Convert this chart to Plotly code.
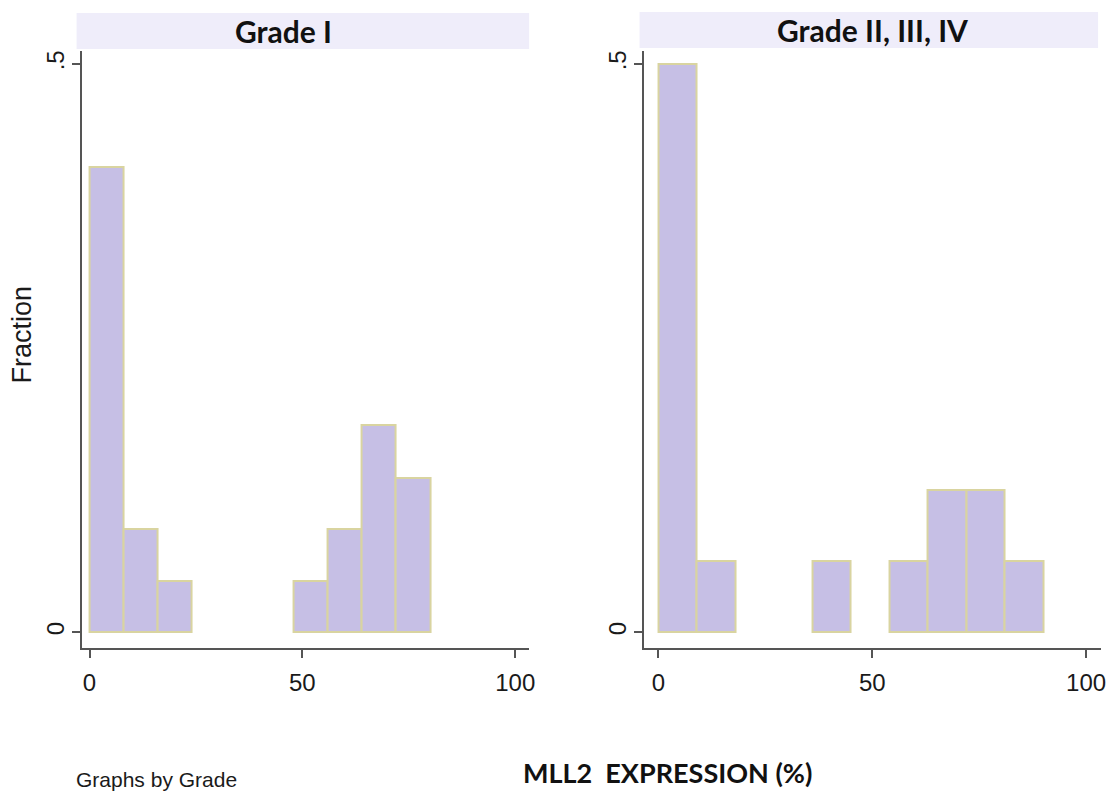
import plotly.graph_objects as go

# ---- data ----
g1_bin_start = [0, 8, 16, 48, 56, 64, 72]
g1_fraction = [0.409, 0.091, 0.045, 0.045, 0.091, 0.182, 0.136]
g1_bin_width = 8

g2_bin_start = [0, 9, 36, 54, 63, 72, 81]
g2_fraction = [0.5, 0.0625, 0.0625, 0.0625, 0.125, 0.125, 0.0625]
g2_bin_width = 9

panel_titles = ["Grade I", "Grade II, III, IV"]
x_tick_vals = [0, 50, 100]
y_tick_vals = [0, 0.5]
y_tick_text = ["0", ".5"]

W, H = 1119, 791
def px(x):
    return x / W
def py(y):
    return 1 - y / H

BAR_FILL = "#c6bfe5"
BAR_LINE = "#d9d4a0"
AXIS_COL = "#555555"
TICK_FONT = dict(family="Liberation Sans, Arial", size=24, color="#1a1a1a")

fig = go.Figure()
fig.add_trace(go.Bar(x=g1_bin_start, y=g1_fraction, width=g1_bin_width, offset=0,
                     marker=dict(color=BAR_FILL, line=dict(color=BAR_LINE, width=2)),
                     xaxis="x", yaxis="y", showlegend=False, hoverinfo="skip"))
fig.add_trace(go.Bar(x=g2_bin_start, y=g2_fraction, width=g2_bin_width, offset=0,
                     marker=dict(color=BAR_FILL, line=dict(color=BAR_LINE, width=2)),
                     xaxis="x2", yaxis="y2", showlegend=False, hoverinfo="skip"))

common_x = dict(showline=True, linecolor=AXIS_COL, linewidth=2, ticks="outside",
                ticklen=8, tickwidth=1.5, tickcolor=AXIS_COL, tickvals=x_tick_vals,
                showgrid=False, zeroline=False, tickfont=TICK_FONT, ticklabelstandoff=4)
common_y = dict(showline=True, linecolor=AXIS_COL, linewidth=2, ticks="outside",
                ticklen=8, tickwidth=1.5, tickcolor=AXIS_COL, tickvals=y_tick_vals,
                ticktext=y_tick_text, tickangle=-90, showgrid=False, zeroline=False,
                tickfont=TICK_FONT, range=[-0.014, 0.5114], ticklabelstandoff=-2,
                domain=[py(648), py(50)])

fig.update_layout(
    width=W, height=H, margin=dict(l=0, r=0, t=0, b=0),
    paper_bgcolor="white", plot_bgcolor="white", bargap=0,
    xaxis=dict(domain=[px(82), px(532)], range=[-1.87, 103.27], anchor="y", **common_x),
    yaxis=dict(anchor="x", **common_y),
    xaxis2=dict(domain=[px(647), px(1107)], range=[-3.49, 103.5], anchor="y2", **common_x),
    yaxis2=dict(anchor="x2", **common_y),
)

# header strips
fig.add_shape(type="rect", xref="paper", yref="paper", x0=px(77), x1=px(532),
              y0=py(48), y1=py(12), fillcolor="#efedfa", line=dict(width=0), layer="below")
fig.add_shape(type="rect", xref="paper", yref="paper", x0=px(643), x1=px(1104),
              y0=py(47), y1=py(11), fillcolor="#efedfa", line=dict(width=0), layer="below")

HEAD_FONT = dict(family="Lato, Open Sans", size=30, color="#111111")
fig.add_annotation(text="<b>%s</b>" % panel_titles[0], x=px(285), y=py(30), xref="paper", yref="paper",
                   showarrow=False, font=HEAD_FONT, xanchor="center", yanchor="middle")
fig.add_annotation(text="<b>%s</b>" % panel_titles[1], x=px(877), y=py(29), xref="paper", yref="paper",
                   showarrow=False, font=HEAD_FONT, xanchor="center", yanchor="middle")

fig.add_annotation(text="Fraction", x=px(22), y=py(334), xref="paper", yref="paper",
                   showarrow=False, textangle=-90, xanchor="center", yanchor="middle",
                   font=dict(family="Liberation Sans, Arial", size=27, color="#1a1a1a"))
fig.add_annotation(text="<b>MLL2  EXPRESSION (%)</b>", x=px(671), y=py(772), xref="paper", yref="paper",
                   showarrow=False, xanchor="center", yanchor="middle",
                   font=dict(family="Lato, Open Sans", size=27, color="#111111"))
fig.add_annotation(text="Graphs by Grade", x=px(74), y=py(779), xref="paper", yref="paper",
                   showarrow=False, xanchor="left", yanchor="middle",
                   font=dict(family="Liberation Sans, Arial", size=21, color="#1a1a1a"))

fig.write_html("out.html", config={"displayModeBar": False},
               post_script="document.body.style.margin='0';document.body.style.overflow='hidden';")
